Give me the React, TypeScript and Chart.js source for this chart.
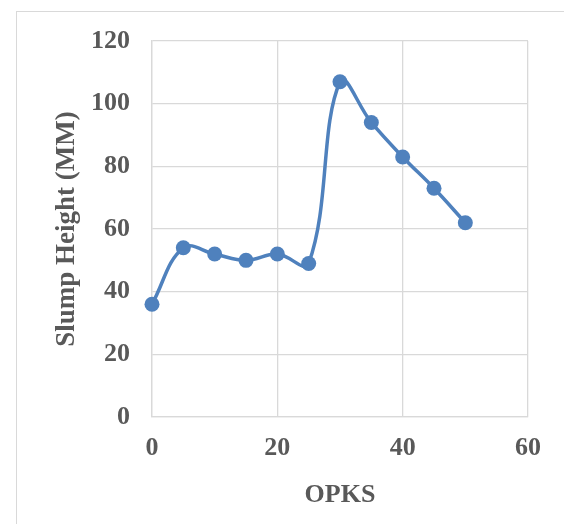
import React, { useEffect, useRef } from "react";
import { Chart, registerables } from "chart.js";

Chart.register(...registerables);

const opksValues = [0, 5, 10, 15, 20, 25, 30, 35, 40, 45, 50];
const slumpHeights = [36, 54, 52, 50, 52, 49, 107, 94, 83, 73, 62];
const xTitle = "OPKS";
const yTitle = "Slump Height (MM)";

const TEXT = "#595959";
const GRID = "#d9d9d9";
const BLUE = "#4f81bd";
const FAMILY = "'Liberation Serif', 'Times New Roman', serif";
const FONT = { family: FAMILY, size: 26, weight: "bold" as const };
const YTITLE_FONT = { family: FAMILY, size: 27, weight: "bold" as const };

export default function App() {
  const ref = useRef<HTMLCanvasElement | null>(null);

  useEffect(() => {
    if (!ref.current) return;
    const chart = new Chart(ref.current, {
      type: "scatter",
      data: {
        datasets: [
          {
            data: opksValues.map((x, i) => ({ x, y: slumpHeights[i] })),
            showLine: true,
            tension: 0.4,
            borderColor: BLUE,
            backgroundColor: BLUE,
            borderWidth: 3.5,
            pointRadius: 7.5,
            pointBackgroundColor: BLUE,
            pointBorderWidth: 0,
            clip: false as any,
          },
        ],
      },
      options: {
        animation: false,
        responsive: true,
        maintainAspectRatio: false,
        layout: { padding: { top: 41, right: 36, bottom: 0, left: 0 } },
        plugins: { legend: { display: false }, tooltip: { enabled: false } },
        scales: {
          x: {
            type: "linear",
            min: 0,
            max: 60,
            ticks: { stepSize: 20, color: TEXT, font: FONT, padding: 16 },
            grid: { color: GRID, lineWidth: 1.3, drawTicks: false },
            border: { color: GRID, width: 1.3 },
            title: { display: true, text: xTitle, color: TEXT, font: FONT, padding: { top: 0, bottom: 13 } },
            afterFit: (s: any) => {
              s.height = 107;
            },
          },
          y: {
            type: "linear",
            min: 0,
            max: 120,
            ticks: { stepSize: 20, color: TEXT, font: FONT, padding: 22 },
            grid: { color: GRID, lineWidth: 1.3, drawTicks: false },
            border: { color: GRID, width: 1.3 },
            title: { display: true, text: yTitle, color: TEXT, font: YTITLE_FONT, padding: { top: 51, bottom: 0 } },
            afterFit: (s: any) => {
              s.width = 152;
            },
          },
        },
      },
    });
    return () => chart.destroy();
  }, []);

  return (
    <div style={{ position: "fixed", left: 0, top: 0, width: 564, height: 524, overflow: "hidden", background: "#fff" }}>
      <div
        style={{
          position: "absolute",
          left: 16,
          top: 11,
          width: 700,
          height: 700,
          border: "1.5px solid #d9d9d9",
        }}
      />
      <div style={{ position: "absolute", left: 0, top: 0, width: 564, height: 524 }}>
        <canvas ref={ref} />
      </div>
    </div>
  );
}
